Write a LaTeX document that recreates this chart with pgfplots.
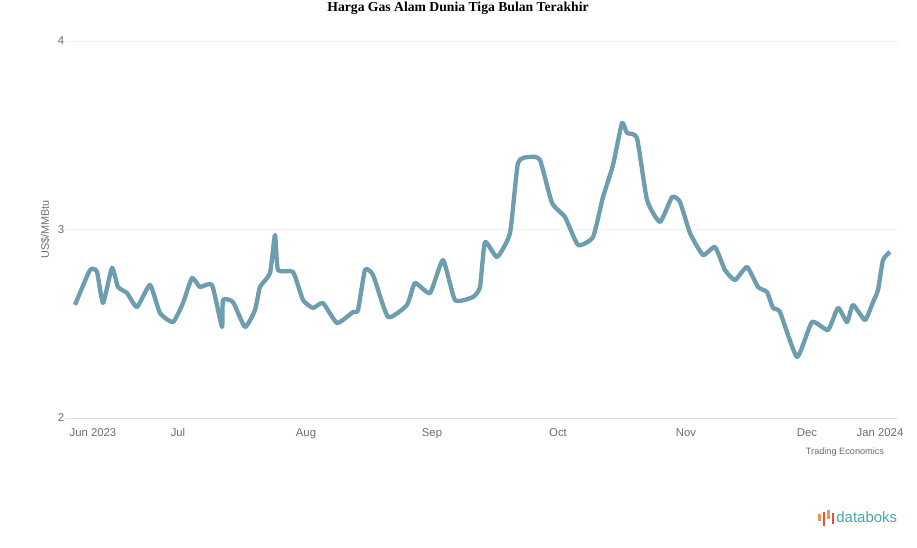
\documentclass[border=0pt]{standalone}
\usepackage{pgfplots}
\pgfplotsset{compat=1.18}
\usepackage{fontspec}
\setmainfont{Liberation Serif}
\setsansfont{Liberation Sans}
\definecolor{gasline}{RGB}{108,158,176}
\definecolor{ticktext}{RGB}{110,110,110}
\definecolor{teallogo}{RGB}{72,168,164}
\definecolor{logored}{RGB}{222,80,70}
\definecolor{logoorange}{RGB}{240,150,70}
\begin{document}
\begin{tikzpicture}[x=0.6pt,y=0.6pt]
\path[use as bounding box] (-65,-129) rectangle (852,418);
\begin{axis}[
  at={(0,0)}, anchor=south west,
  scale only axis, width=499.8pt, height=226.2pt,
  xmin=65, xmax=898, ymin=2, ymax=4,
  axis x line*=bottom, axis y line*=left,
  x axis line style={gray!25, line width=0.5pt},
  y axis line style={draw=none},
  xtick={93,178,306,432,558,686,807,880},
  xticklabels={Jun 2023,Jul,Aug,Sep,Oct,Nov,Dec,Jan 2024},
  ytick={2,3,4},
  /pgf/number format/assume math mode=true,
  ymajorgrids, grid style={gray!12, line width=0.6pt},
  major tick length=0pt,
  tick label style={font=\sffamily\fontsize{6.8}{7}\selectfont, text=ticktext},
  xticklabel style={anchor=north, yshift=-0.5pt, text height=1.6ex, text depth=0.3ex},
  yticklabel style={xshift=3pt},
  ylabel={US\$/MMBtu},
  ylabel style={font=\sffamily\fontsize{6.5}{7}\selectfont, text=ticktext, yshift=-2pt},
  clip=false,
]
\addplot[gasline, line width=2.6pt, line join=round, smooth, tension=0.3] coordinates {
(75,2.600) (90,2.785) (97,2.775) (103,2.610) (112,2.796) (118,2.695) (127,2.663)
(137,2.589) (150,2.706) (160,2.557) (173,2.509) (183,2.610) (192,2.743) (200,2.695)
(212,2.706) (222,2.483) (223,2.626) (233,2.615) (245,2.483) (255,2.573) (260,2.695)
(270,2.769) (275,2.971) (278,2.785) (293,2.775) (303,2.626) (313,2.584) (323,2.610)
(337,2.504) (353,2.562) (358,2.573) (365,2.785) (373,2.759) (388,2.536) (407,2.600)
(415,2.716) (430,2.663) (443,2.838) (455,2.626) (473,2.642) (480,2.695) (485,2.934)
(497,2.854) (510,2.981) (518,3.353) (530,3.385) (540,3.369) (552,3.141) (565,3.066)
(578,2.918) (593,2.960) (603,3.172) (613,3.342) (622,3.565) (627,3.512) (637,3.485)
(647,3.157) (660,3.040) (672,3.172) (680,3.146) (690,2.981) (703,2.865) (715,2.907)
(725,2.785) (735,2.732) (747,2.801) (758,2.695) (767,2.668) (773,2.584) (780,2.562)
(797,2.324) (812,2.509) (828,2.467) (838,2.584) (847,2.509) (853,2.600) (865,2.520)
(873,2.615) (878,2.679) (883,2.838) (890,2.881)
};
\end{axis}
\node[font=\bfseries\fontsize{8.2}{9}\selectfont] at (393,410) {Harga Gas Alam Dunia Tiga Bulan Terakhir};
\node[font=\sffamily\fontsize{5.5}{6}\selectfont, text=ticktext] at (780,-34) {Trading Economics};
% logo
\fill[logoorange] (753,-103) rectangle (755.5,-96);
\fill[logored] (757.5,-108) rectangle (760,-94);
\fill[logoorange] (762,-101) rectangle (764.5,-92);
\fill[logored] (766.5,-106) rectangle (769,-95);
\node[anchor=west, font=\sffamily\fontsize{9}{10}\selectfont, text=teallogo, inner sep=0pt] at (771,-99) {databoks};
\end{tikzpicture}
\end{document}
